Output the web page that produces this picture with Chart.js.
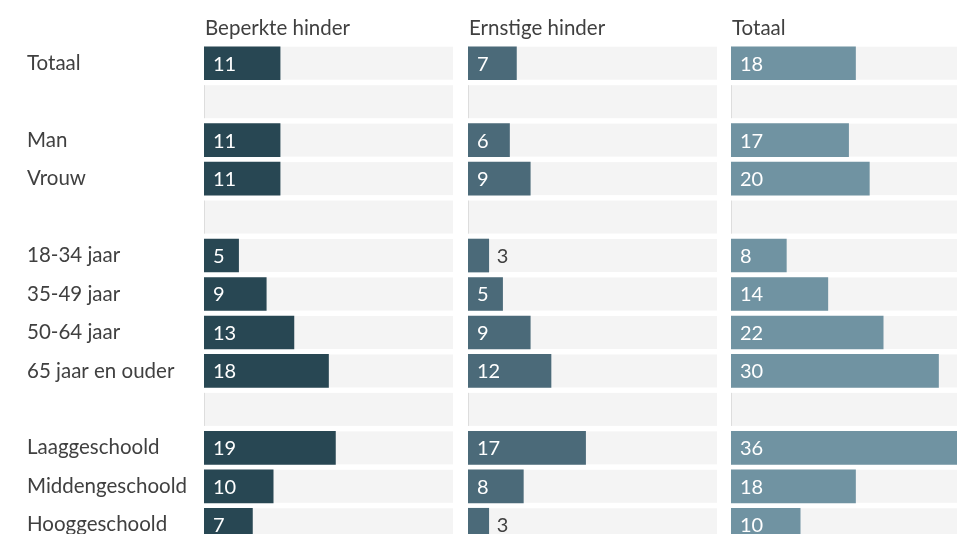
<!DOCTYPE html>
<html>
<head>
<meta charset="utf-8">
<script src="https://cdn.jsdelivr.net/npm/chart.js@4.4.0/dist/chart.umd.min.js"></script>
<style>
  html, body { margin: 0; padding: 0; background: #fff; overflow: hidden; width: 957px; height: 534px; }
  .wrap { position: relative; width: 957px; height: 534px; overflow: hidden; }
  canvas { position: absolute; top: 0; }
</style>
</head>
<body>
<div class="wrap">
  <canvas id="c1" width="453" height="544" style="left:0"></canvas>
  <canvas id="c2" width="249" height="544" style="left:468px"></canvas>
  <canvas id="c3" width="249" height="544" style="left:731px"></canvas>
</div>
<script>
const categories = ['Totaal', '', 'Man', 'Vrouw', '', '18-34 jaar', '35-49 jaar', '50-64 jaar', '65 jaar en ouder', '', 'Laaggeschoold', 'Middengeschoold', 'Hooggeschoold']
const beperkt = [11, null, 11, 11, null, 5, 9, 13, 18, null, 19, 10, 7]
const ernstig = [7, null, 6, 9, null, 3, 5, 9, 12, null, 17, 8, 3]
const totaal = [18, null, 17, 20, null, 8, 14, 22, 30, null, 36, 18, 10]
const titles = ['Beperkte hinder', 'Ernstige hinder', 'Totaal']
const colors = ['#284753', '#4b6a79', '#7093a2']

const scaleMax = 36
const barH = 33
const font = 'Lato'
const textColor = '#404040'

const panelPlugin = {
  id: 'panel',
  beforeDatasetsDraw(chart, args, opts) {
    const { ctx, chartArea, scales: { x, y } } = chart
    const x0 = x.getPixelForValue(0)
    const x1 = x.getPixelForValue(scaleMax)
    ctx.save()
    categories.forEach((c, i) => {
      const yc = y.getPixelForValue(i)
      ctx.fillStyle = '#f4f4f4'
      ctx.fillRect(x0, yc - barH / 2, x1 - x0, barH)
      ctx.fillStyle = '#dddddd'
      ctx.fillRect(x0, yc - barH / 2, 1, barH)
    })
    // titel boven het paneel
    ctx.font = '20.5px ' + font
    ctx.fillStyle = textColor
    ctx.textAlign = 'left'
    ctx.textBaseline = 'alphabetic'
    ctx.fillText(opts.title, chartArea.left + 1, chartArea.top - 9)
    ctx.restore()
  },
  afterDatasetsDraw(chart) {
    const { ctx } = chart
    const meta = chart.getDatasetMeta(0)
    const data = chart.data.datasets[0].data
    ctx.save()
    ctx.font = '20px ' + font
    ctx.textBaseline = 'middle'
    ctx.textAlign = 'left'
    meta.data.forEach((bar, i) => {
      if (data[i] === null) return
      const w = bar.x - bar.base
      if (w > 26) {
        ctx.fillStyle = '#ffffff'
        ctx.fillText(data[i], bar.base + 9, bar.y + 1)
      } else {
        ctx.fillStyle = textColor
        ctx.fillText(data[i], bar.x + 8, bar.y + 1)
      }
    })
    ctx.restore()
  }
}

function makeChart(id, values, idx) {
  const first = idx === 0
  return new Chart(document.getElementById(id), {
    type: 'bar',
    data: {
      labels: categories,
      datasets: [{
        data: values,
        backgroundColor: colors[idx],
        barThickness: barH,
        borderWidth: 0
      }]
    },
    options: {
      indexAxis: 'y',
      responsive: false,
      animation: false,
      layout: { padding: { left: first ? 27 : 0, top: 44, right: 0, bottom: 0 } },
      plugins: {
        legend: { display: false },
        tooltip: { enabled: false },
        panel: { title: titles[idx] }
      },
      scales: {
        x: { display: false, min: 0, max: scaleMax },
        y: {
          display: first,
          grid: { display: false },
          border: { display: false },
          afterFit(s) {
            s.width = first ? 177 : 0
            s.paddingTop = 0
            s.paddingBottom = 0
          },
          ticks: {
            autoSkip: false,
            crossAlign: 'far',
            padding: 0,
            color: textColor,
            font: { family: font, size: 20.5 }
          }
        }
      }
    },
    plugins: [panelPlugin]
  })
}

function draw() {
  makeChart('c1', beperkt, 0)
  makeChart('c2', ernstig, 1)
  makeChart('c3', totaal, 2)
}

document.fonts.load('20px ' + font).then(draw, draw)
</script>
</body>
</html>
